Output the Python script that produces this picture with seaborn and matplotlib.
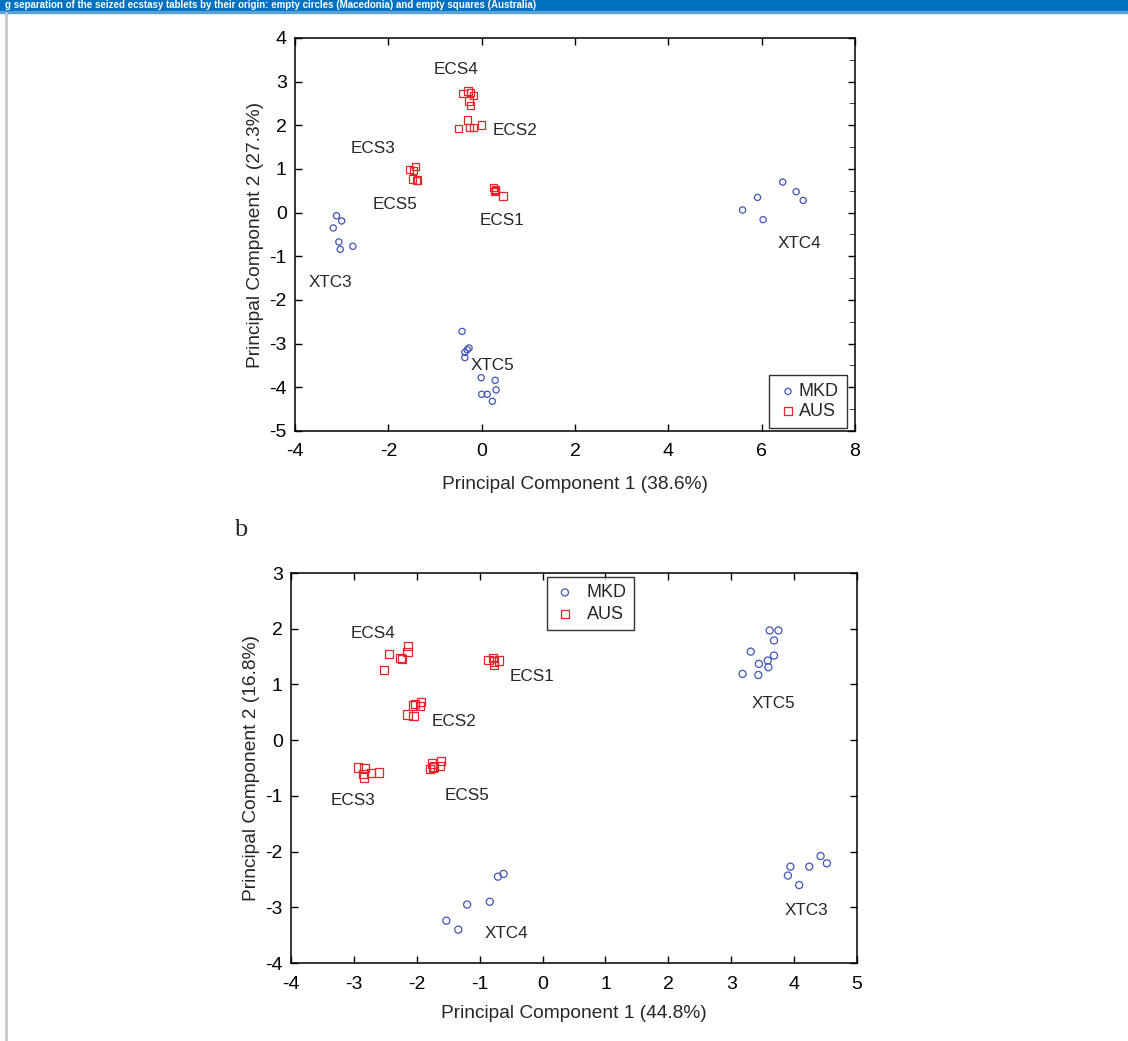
import pandas as pd
import matplotlib.pyplot as plt
from matplotlib.ticker import MultipleLocator
import seaborn as sns

# ~~~~~~~~~~~~~~~~~~  DATA  ~~~~~~~~~~~~~~~~~~
# panel a: PC1 (38.6%) vs PC2 (27.3%)
a_mkd_x = [-3.11, -3.00, -3.18, -3.06, -3.03, -2.76,
           -0.42, -0.27, -0.31, -0.36, -0.36, -0.01, 0.29, 0.31, 0.00, 0.12, 0.23,
           5.59, 5.91, 6.03, 6.45, 6.74, 6.89]
a_mkd_y = [-0.07, -0.19, -0.35, -0.67, -0.84, -0.77,
           -2.72, -3.10, -3.14, -3.20, -3.32, -3.78, -3.84, -4.06, -4.16, -4.16, -4.32,
           0.06, 0.35, -0.16, 0.70, 0.48, 0.28]
a_aus_x = [-1.54, -1.42, -1.46, -1.48, -1.40, -1.38,
           0.26, 0.29, 0.30, 0.46, 0.27,
           -0.40, -0.29, -0.24, -0.17, -0.27, -0.24,
           -0.50, -0.30, -0.26, -0.17, 0.00]
a_aus_y = [0.99, 1.05, 0.96, 0.77, 0.73, 0.75,
           0.58, 0.53, 0.50, 0.38, 0.48,
           2.73, 2.79, 2.75, 2.69, 2.56, 2.45,
           1.92, 2.12, 1.95, 1.95, 2.01]
a_labels = ["XTC3", "ECS5", "ECS3", "ECS1", "ECS4", "ECS2", "XTC5", "XTC4"]
a_label_x = [-3.25, -1.85, -2.33, 0.43, -0.55, 0.71, 0.24, 6.80]
a_label_y = [-1.60, 0.18, 1.48, -0.19, 3.27, 1.89, -3.51, -0.70]

# panel b: PC1 (44.8%) vs PC2 (16.8%)
b_mkd_x = [3.61, 3.75, 3.68, 3.31, 3.68, 3.58, 3.44, 3.59, 3.18, 3.43,
           4.42, 4.52, 4.24, 3.94, 3.90, 4.08,
           -0.71, -0.62, -1.20, -0.84, -1.53, -1.34]
b_mkd_y = [1.97, 1.97, 1.79, 1.59, 1.52, 1.43, 1.37, 1.31, 1.19, 1.17,
           -2.08, -2.21, -2.27, -2.27, -2.43, -2.60,
           -2.45, -2.40, -2.95, -2.90, -3.24, -3.40]
b_aus_x = [-2.52, -2.44, -2.26, -2.24, -2.15, -2.14,
           -0.86, -0.79, -0.77, -0.77, -0.69,
           -2.15, -2.06, -2.03, -2.05, -1.95, -1.93,
           -2.93, -2.83, -2.85, -2.84, -2.73, -2.60,
           -1.76, -1.73, -1.79, -1.63, -1.62, -1.74]
b_aus_y = [1.26, 1.55, 1.47, 1.46, 1.58, 1.69,
           1.44, 1.47, 1.41, 1.35, 1.43,
           0.46, 0.62, 0.65, 0.43, 0.61, 0.69,
           -0.49, -0.50, -0.61, -0.67, -0.59, -0.58,
           -0.42, -0.47, -0.52, -0.46, -0.37, -0.49]
b_labels = ["ECS4", "ECS1", "ECS2", "ECS3", "ECS5", "XTC5", "XTC3", "XTC4"]
b_label_x = [-2.69, -0.17, -1.41, -3.01, -1.20, 3.67, 4.19, -0.58]
b_label_y = [1.91, 1.15, 0.33, -1.09, -0.99, 0.65, -3.05, -3.47]

blue = '#3f55b8'
red = '#e8232b'

sns.set_style("ticks")
plt.rcParams['font.family'] = ['Liberation Sans', 'DejaVu Sans']
plt.rcParams['axes.unicode_minus'] = False

fig = plt.figure(figsize=(11.28, 10.41), dpi=100)

# header bar at the top of the page
fig.patches.append(plt.Rectangle((0, 1 - 11 / 1041), 1, 11 / 1041, transform=fig.transFigure,
                                 color='#0070c0', zorder=0))
fig.patches.append(plt.Rectangle((0, 1 - 13 / 1041), 1, 2 / 1041, transform=fig.transFigure,
                                 color='#5a9fd6', zorder=0))
fig.text(5 / 1128, 1 - 5.5 / 1041,
         "g separation of the seized ecstasy tablets by their origin: empty circles (Macedonia) and empty squares (Australia)",
         color='white', fontsize=7, fontweight='bold', va='center', ha='left')
fig.lines.append(plt.Line2D([6 / 1128, 6 / 1128], [0, 1 - 13 / 1041], transform=fig.transFigure,
                            color='#c8c8c8', lw=2))


def draw_panel(ax, mkd_x, mkd_y, aus_x, aus_y, labels, lx, ly, s_c, s_s):
    mkd = pd.DataFrame({'pc1': mkd_x, 'pc2': mkd_y})
    aus = pd.DataFrame({'pc1': aus_x, 'pc2': aus_y})
    sns.scatterplot(data=mkd, x='pc1', y='pc2', marker='o', s=s_c, color=blue,
                    facecolors='none', edgecolor=blue, linewidth=0.9, label='MKD', ax=ax)
    sns.scatterplot(data=aus, x='pc1', y='pc2', marker='s', s=s_s, color=red,
                    facecolors='none', edgecolor=red, linewidth=0.9, label='AUS', ax=ax)
    for t, x, y in zip(labels, lx, ly):
        ax.text(x, y, t, ha='center', va='center', fontsize=12.3)
    for sp in ax.spines.values():
        sp.set_visible(True)
        sp.set_linewidth(1.1)
        sp.set_color('black')
    ax.tick_params(direction='in', top=True, right=True, length=5, width=1,
                   labelsize=14, colors='black')
    ax.tick_params(axis='x', pad=9)
    ax.tick_params(axis='y', pad=6)


# ~~~~~~~~~~~~~~~~~~  PANEL a  ~~~~~~~~~~~~~~~~~~
ax1 = fig.add_axes([0.2615, 0.586, 0.4965, 0.3775])
draw_panel(ax1, a_mkd_x, a_mkd_y, a_aus_x, a_aus_y, a_labels, a_label_x, a_label_y, 20, 28)
ax1.set_xlim(-4, 8)
ax1.set_ylim(-5, 4)
ax1.xaxis.set_major_locator(MultipleLocator(2))
ax1.yaxis.set_major_locator(MultipleLocator(1))
ax1.yaxis.set_minor_locator(MultipleLocator(0.5))
ax1.tick_params(which='minor', direction='in', left=False, right=True, length=4)
ax1.set_xlabel("Principal Component 1 (38.6%)", fontsize=13.8, labelpad=11)
ax1.set_ylabel("Principal Component 2 (27.3%)", fontsize=13.8, labelpad=4)
leg1 = ax1.legend(loc='lower right', bbox_to_anchor=(0.9857, 0.0076), borderaxespad=0,
                  fontsize=13, frameon=True, fancybox=False, edgecolor='black',
                  handletextpad=0.0, borderpad=0.45, labelspacing=0.15, handlelength=1.2)
leg1.get_frame().set_linewidth(1.0)

# ~~~~~~~~~~~~~~~~~~  PANEL b  ~~~~~~~~~~~~~~~~~~
fig.text(234 / 1128, 1 - 530 / 1041, "b", fontsize=19, family='Liberation Serif',
         va='center', ha='left')
ax2 = fig.add_axes([0.258, 0.0749, 0.5018, 0.3746])
draw_panel(ax2, b_mkd_x, b_mkd_y, b_aus_x, b_aus_y, b_labels, b_label_x, b_label_y, 26, 36)
ax2.set_xlim(-4, 5)
ax2.set_ylim(-4, 3)
ax2.xaxis.set_major_locator(MultipleLocator(1))
ax2.yaxis.set_major_locator(MultipleLocator(1))
ax2.set_xlabel("Principal Component 1 (44.8%)", fontsize=13.8, labelpad=9)
ax2.set_ylabel("Principal Component 2 (16.8%)", fontsize=13.8, labelpad=4)
leg2 = ax2.legend(loc='upper left', bbox_to_anchor=(0.452, 0.99), borderaxespad=0,
                  fontsize=13, frameon=True, fancybox=False, edgecolor='black',
                  handletextpad=0.6, borderpad=0.4, labelspacing=0.25, handlelength=1.2)
leg2.get_frame().set_linewidth(1.0)

plt.savefig("out.png", dpi=100)
